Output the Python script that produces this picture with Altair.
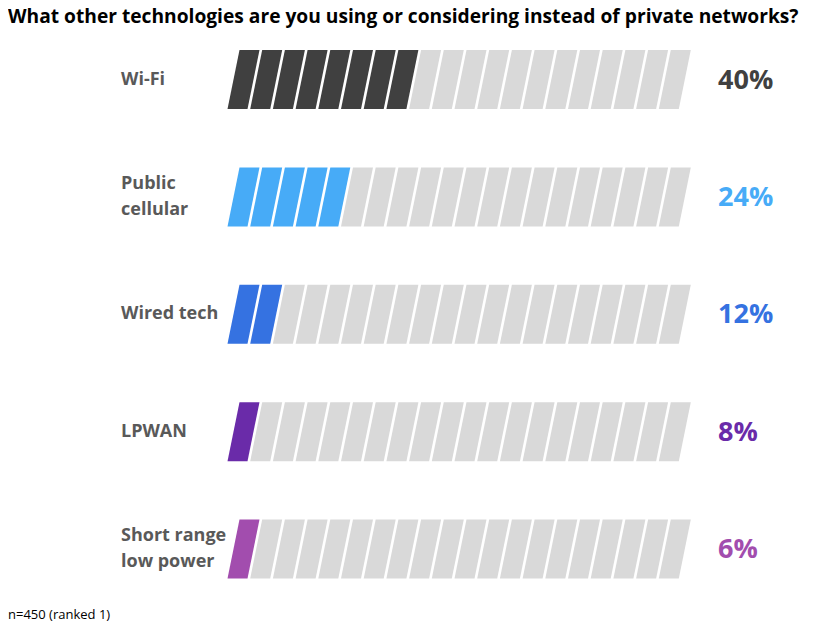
import altair as alt
import pandas as pd

rows = ["Wi-Fi", "Public cellular", "Wired tech", "LPWAN", "Short range low power"]
label_line1 = ["Wi-Fi", "Public", "Wired tech", "LPWAN", "Short range"]
label_line2 = ["", "cellular", "", "", "low power"]
values = [40, 24, 12, 8, 6]
filled_segments = [8, 5, 2, 1, 1]
colors = ["#404040", "#47ABF7", "#3572E1", "#6A2BA9", "#A24DAE"]
n_segments = 20
empty_color = "#D9D9D9"
title_text = "What other technologies are you using or considering instead of private networks?"
note_text = "n=450 (ranked 1)"

seg_records = []
for ri, (r, f) in enumerate(zip(rows, filled_segments)):
    for i in range(n_segments):
        seg_records.append({"row": r, "ri": ri, "seg": i, "key": r if i < f else "empty"})
seg_df = pd.DataFrame(seg_records)

lab_df = pd.DataFrame({
    "row": rows,
    "ri": list(range(len(rows))),
    "l1": label_line1,
    "l2": label_line2,
    "pct": [f"{v}%" for v in values],
})

yscale = alt.Scale(domain=[0, 4], range=[63.5, 533])
xscale = alt.Scale(domain=[0, 19], range=[235.5, 666.8])
cscale = alt.Scale(domain=rows + ["empty"], range=colors + [empty_color])

para = "M -0.136 -1 L 0.542 -1 L 0.136 1 L -0.542 1 Z"

segs = alt.Chart(seg_df).mark_point(shape=para, filled=True, opacity=1, size=3481, strokeWidth=0).encode(
    x=alt.X("seg:Q", scale=xscale, axis=None),
    y=alt.Y("ri:Q", scale=yscale, axis=None),
    color=alt.Color("key:N", scale=cscale, legend=None),
)

lab_style = dict(align="left", baseline="middle", font="Open Sans", fontSize=18,
                 fontWeight="bold", color="#595959")

base_lab = alt.Chart(lab_df).encode(
    x=alt.value(113),
    y=alt.Y("ri:Q", scale=yscale, axis=None),
)
single = base_lab.transform_filter("datum.l2 == ''").mark_text(**lab_style).encode(text="l1:N")
first = base_lab.transform_filter("datum.l2 != ''").mark_text(dy=-13, **lab_style).encode(text="l1:N")
second = base_lab.transform_filter("datum.l2 != ''").mark_text(dy=13, **lab_style).encode(text="l2:N")

pcts = alt.Chart(lab_df).mark_text(
    align="left", baseline="middle", font="Open Sans", fontSize=27, fontWeight="bold", dy=1,
).encode(
    x=alt.value(710),
    y=alt.Y("ri:Q", scale=yscale, axis=None),
    text="pct:N",
    color=alt.Color("row:N", scale=cscale, legend=None),
)

title = alt.Chart(pd.DataFrame({"t": [title_text]})).mark_text(
    align="left", baseline="top", font="Open Sans", fontSize=19.2, fontWeight="bold", color="#000000",
).encode(x=alt.value(0), y=alt.value(-8), text="t:N")

note = alt.Chart(pd.DataFrame({"t": [note_text]})).mark_text(
    align="left", baseline="middle", font="Open Sans", fontSize=13, color="#000000",
).encode(x=alt.value(0), y=alt.value(599), text="t:N")

chart = alt.layer(segs, single, first, second, pcts, title, note).properties(
    width=816, height=607, padding={"left": 0, "top": 8, "right": 0, "bottom": 0}, autosize="none"
).configure_view(stroke=None)

chart.save("out.html", embed_options={"renderer": "svg", "actions": False})
